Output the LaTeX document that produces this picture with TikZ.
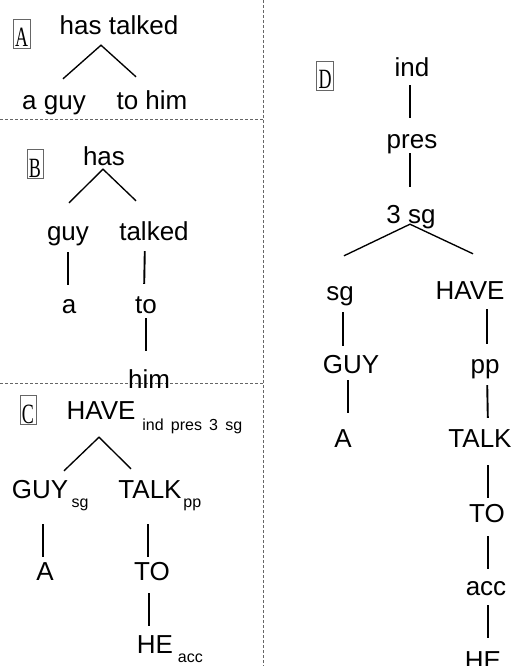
\documentclass[tikz,border=0pt]{standalone}
\usepackage{fontspec}
\setmainfont{Liberation Sans}
\newfontfamily\tagfont{Liberation Serif}
\newcommand\subgap{\hspace{7.2pt}}

\begin{document}
\begin{tikzpicture}[x=1pt,y=-1pt,
 w/.style={font=\fontsize{26}{30}\selectfont,inner sep=0pt,text height=19pt,text depth=0pt,anchor=base},
 sub/.style={font=\fontsize{16}{19}\selectfont,inner sep=0pt,anchor=base west},
 tagbox/.style={draw=black!60,line width=0.6pt,inner xsep=2pt,inner ysep=0pt,
 text height=28pt,text depth=1pt,anchor=base,font=\tagfont\fontsize{18}{20}\selectfont},
 br/.style={line width=1.35pt},
 link/.style={line width=1.9pt,shorten <=10pt,shorten >=10pt},
 sep/.style={draw=black!60,line width=0.8pt,dash pattern=on 3pt off 2pt}]
 \useasboundingbox (0,0) rectangle (513,666);
 % separators
 \draw[sep] (263,0) -- (263,666);
 \draw[sep] (0,119) -- (263,119);
 \draw[sep] (0,383) -- (263,383);
 % A
 \node[tagbox] (tag-a) at (21.5,47) {\scalebox{1}[1.55]{A}};
 \node[w] (a-top) at (119,35) {has talked};
 \node[w] (a-l) at (54,110) {a guy};
 \node[w] (a-r) at (152,110) {to him};
 \draw[br] ([shift={(9pt,12pt)}]a-l.north) -- ([shift={(-18pt,-10pt)}]a-top.south) -- ([shift={(-16pt,14pt)}]a-r.north);
 % B
 \node[tagbox] (tag-b) at (35,177) {\scalebox{1}[1.55]{B}};
 \node[w] (b-has) at (104,165) {has};
 \node[w] (b-guy) at (68,240) {guy};
 \node[w] (b-talked) at (154,240) {talked};
 \node[w] (b-a) at (69,313) {a};
 \node[w] (b-to) at (146,313) {to};
 \node[w] (b-him) at (149,388) {him};
 \draw[br] ([shift={(1pt,18pt)}]b-guy.north) -- ([shift={(-1pt,-4pt)}]b-has.south) -- ([shift={(-18pt,20pt)}]b-talked.north);
 \draw[link,shorten <=12pt,shorten >=9pt] (b-guy.south) -- (b-guy.south |- b-a.north);
 \draw[link,shorten <=11pt] ([xshift=-9pt]b-talked.south) -- ([xshift=-2pt]b-to.north);
 \draw[link,shorten <=5pt,shorten >=18pt] (b-to.south) -- (b-to.south |- b-him.north);
 % C
 \node[tagbox] (tag-c) at (28,423) {\scalebox{1}[1.55]{C}};
 \node[w] (c-have) at (101,419) {HAVE};
 \node[sub] (c-have-sub) at ([shift={(6.5pt,-11pt)}]c-have.base east) {ind\subgap pres\subgap 3\subgap sg};
 \node[w] (c-guy) at (40,498) {GUY};
 \node[sub] (c-guy-sub) at ([shift={(3pt,-9pt)}]c-guy.base east) {sg};
 \node[w] (c-talk) at (150,498) {TALK};
 \node[sub] (c-talk-sub) at ([shift={(1.5pt,-9pt)}]c-talk.base east) {pp};
 \node[w] (c-a) at (45,580) {A};
 \node[w] (c-to) at (152,580) {TO};
 \node[w] (c-he) at (155,653) {HE};
 \node[sub] (c-he-sub) at ([shift={(4.5pt,-9pt)}]c-he.base east) {acc};
 \draw[br] ([shift={(24pt,8pt)}]c-guy.north) -- ([shift={(-2pt,-18pt)}]c-have.south) -- ([shift={(-19pt,10pt)}]c-talk.north);
 \draw[link,shorten <=26pt,shorten >=4pt] ([xshift=3pt]c-guy.south) -- ([xshift=-2pt]c-a.north);
 \draw[link,shorten <=26pt,shorten >=4pt] ([xshift=-2pt]c-talk.south) -- ([xshift=-4pt]c-to.north);
 \draw[link,shorten <=13pt,shorten >=8pt] ([xshift=-3pt]c-to.south) -- ([xshift=-6pt]c-he.north);
 % D
 \node[tagbox] (tag-d) at (325,89) {\scalebox{1}[1.55]{D}};
 \node[w] (d-ind) at (412,77) {ind};
 \node[w] (d-pres) at (412,148) {pres};
 \node[w] (d-3sg) at (411,223) {3 sg};
 \node[w] (d-sg) at (340,300) {sg};
 \node[w] (d-have) at (470,299) {HAVE};
 \node[w] (d-guy) at (351,373) {GUY};
 \node[w] (d-a) at (343,447) {A};
 \node[w] (d-pp) at (485,373) {pp};
 \node[w] (d-talk) at (480,447) {TALK};
 \node[w] (d-to) at (487,522) {TO};
 \node[w] (d-acc) at (486,595) {acc};
 \node[w] (d-he) at (483,669) {HE};
 \draw[link,shorten <=8pt,shorten >=11pt] ([xshift=-2pt]d-ind.south) -- ([xshift=-2pt]d-pres.north);
 \draw[link,shorten <=5pt,shorten >=17pt] ([xshift=-2pt]d-pres.south) -- ([xshift=-1pt]d-3sg.north);
 \draw[br] ([shift={(4pt,25pt)}]d-sg.north) -- ([shift={(-1pt,-1pt)}]d-3sg.south) -- ([shift={(3pt,26pt)}]d-have.north);
 \draw[link,shorten <=12pt,shorten >=8pt] ([xshift=3pt]d-sg.south) -- ([xshift=-8pt]d-guy.north);
 \draw[link,shorten <=7pt,shorten >=15pt] ([xshift=-3pt]d-guy.south) -- ([xshift=5pt]d-a.north);
 \draw[link] ([xshift=17pt]d-have.south) -- ([xshift=2pt]d-pp.north);
 \draw[link,shorten <=12pt] ([xshift=2pt]d-pp.south) -- ([xshift=8pt]d-talk.north);
 \draw[link,shorten <=18pt,shorten >=5pt] ([xshift=8pt]d-talk.south) -- ([xshift=1pt]d-to.north);
 \draw[link,shorten <=14pt,shorten >=7pt] ([xshift=1pt]d-to.south) -- ([xshift=2pt]d-acc.north);
 \draw[link,shorten >=12pt] ([xshift=2pt]d-acc.south) -- ([xshift=5pt]d-he.north);
\end{tikzpicture}
\end{document}
